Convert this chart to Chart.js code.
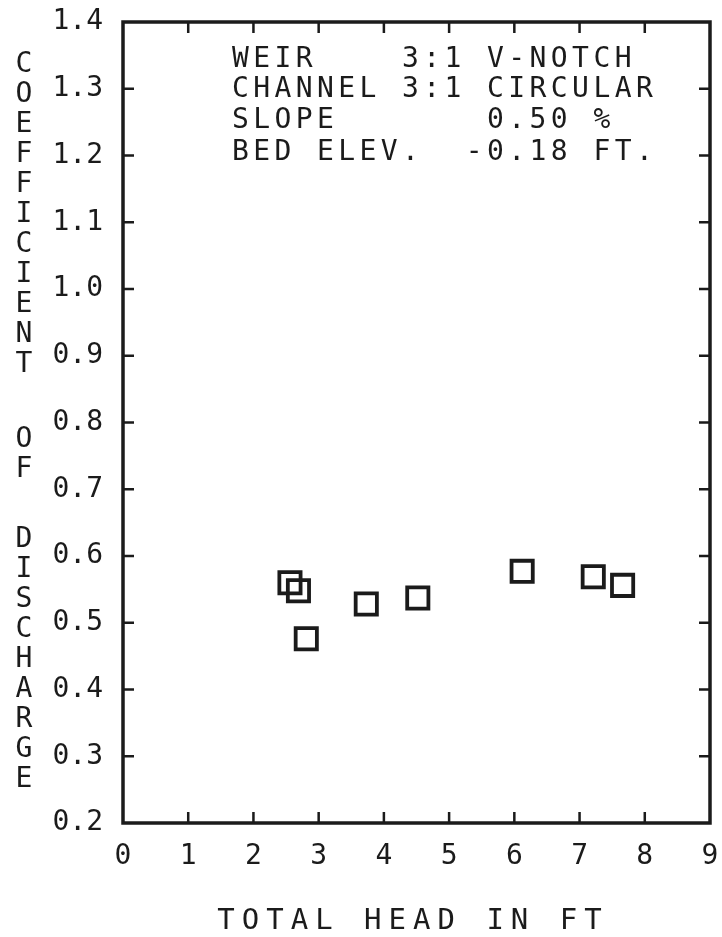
<!DOCTYPE html>
<html lang="en">
<head>
  <meta charset="UTF-8" />
  <title>Coefficient of Discharge vs Total Head</title>
  <script src="https://cdn.jsdelivr.net/npm/chart.js"></script>
  <style>
    html, body { margin: 0; padding: 0; background: #fff; }
    #wrap { width: 722px; height: 937px; }
  </style>
</head>
<body>
  <div id="wrap">
    <canvas id="myChart" width="722" height="937"></canvas>
  </div>

  <script>
    // measured runs: total head (ft) and discharge coefficient
    const totalHead = [2.56, 2.69, 2.81, 3.73, 4.52, 6.12, 7.21, 7.66];
    const dischargeCoef = [0.560, 0.548, 0.476, 0.528, 0.537, 0.577, 0.569, 0.556];

    const xTicks = [0, 1, 2, 3, 4, 5, 6, 7, 8, 9];
    const yTicks = [0.2, 0.3, 0.4, 0.5, 0.6, 0.7, 0.8, 0.9, 1.0, 1.1, 1.2, 1.3, 1.4];

    const xTitle = 'TOTAL HEAD IN FT';
    const yTitleWords = ['COEFFICIENT', 'OF', 'DISCHARGE'];
    const infoLines = [
      'WEIR    3:1 V-NOTCH',
      'CHANNEL 3:1 CIRCULAR',
      'SLOPE       0.50 %',
      'BED ELEV.  -0.18 FT.'
    ];

    const ink = '#1b1b1b';
    const mono = '"DejaVu Sans Mono", "Liberation Mono", monospace';

    // keep the plot box exactly where the layout padding puts it
    function noOverhang(scale) {
      scale.paddingTop = 0;
      scale.paddingBottom = 0;
      scale.paddingLeft = 0;
      scale.paddingRight = 0;
    }

    // box, inward tick marks on all four sides, and the plotter-style text
    const plotterFrame = {
      id: 'plotterFrame',
      afterDraw(chart) {
        const { ctx, chartArea: a, scales } = chart;
        const x = scales.x, y = scales.y;
        const tick = 11;

        ctx.save();
        ctx.strokeStyle = ink;
        ctx.lineWidth = 3.5;
        ctx.strokeRect(a.left, a.top, a.width, a.height);

        ctx.lineWidth = 2.5;
        ctx.beginPath();
        xTicks.forEach(v => {
          if (v <= x.min || v >= x.max) return;
          const px = x.getPixelForValue(v);
          ctx.moveTo(px, a.bottom); ctx.lineTo(px, a.bottom - tick);
          ctx.moveTo(px, a.top); ctx.lineTo(px, a.top + tick);
        });
        yTicks.forEach(v => {
          if (v <= y.min + 1e-9 || v >= y.max - 1e-9) return;
          const py = y.getPixelForValue(v);
          ctx.moveTo(a.left, py); ctx.lineTo(a.left + tick, py);
          ctx.moveTo(a.right, py); ctx.lineTo(a.right - tick, py);
        });
        ctx.stroke();

        ctx.fillStyle = ink;
        ctx.textBaseline = 'middle';

        // x axis title, spaced out
        ctx.font = '29px ' + mono;
        ctx.letterSpacing = '7px';
        ctx.textAlign = 'center';
        ctx.fillText(xTitle, 413, 921);

        // y axis title, one letter per line
        ctx.font = '28px ' + mono;
        ctx.letterSpacing = '0px';
        const wordTops = [65, 440, 540];
        yTitleWords.forEach((w, i) => {
          for (let k = 0; k < w.length; k++) {
            ctx.fillText(w[k], 24, wordTops[i] + k * 30);
          }
        });

        // run description block
        ctx.textAlign = 'left';
        ctx.letterSpacing = '4.4px';
        const rowY = [60, 90, 121, 153];
        infoLines.forEach((line, i) => ctx.fillText(line, 232, rowY[i]));
        ctx.restore();
      }
    };

    const myChart = new Chart(document.getElementById('myChart').getContext('2d'), {
      type: 'scatter',
      data: {
        datasets: [{
          data: totalHead.map((h, i) => ({ x: h, y: dischargeCoef[i] })),
          pointStyle: 'rect',
          radius: 15,
          hoverRadius: 15,
          borderWidth: 3.8,
          borderColor: ink,
          backgroundColor: 'rgba(0,0,0,0)'
        }]
      },
      options: {
        responsive: false,
        devicePixelRatio: 1,
        animation: false,
        layout: { autoPadding: false, padding: { left: 0, right: 12, top: 22, bottom: 0 } },
        plugins: { legend: { display: false }, tooltip: { enabled: false } },
        scales: {
          x: {
            type: 'linear',
            min: 0,
            max: 9,
            grid: { display: false, drawTicks: false },
            border: { display: false },
            afterFit(scale) { scale.height = 114; noOverhang(scale); },
            ticks: {
              stepSize: 1,
              padding: 17,
              color: ink,
              font: { family: mono, size: 28 },
              maxRotation: 0
            }
          },
          y: {
            type: 'linear',
            min: 0.2,
            max: 1.4,
            grid: { display: false, drawTicks: false },
            border: { display: false },
            afterFit(scale) { scale.width = 123; noOverhang(scale); },
            ticks: {
              stepSize: 0.1,
              padding: 20,
              color: ink,
              font: { family: mono, size: 28 },
              callback: v => v.toFixed(1)
            }
          }
        }
      },
      plugins: [plotterFrame]
    });
  </script>
</body>
</html>
